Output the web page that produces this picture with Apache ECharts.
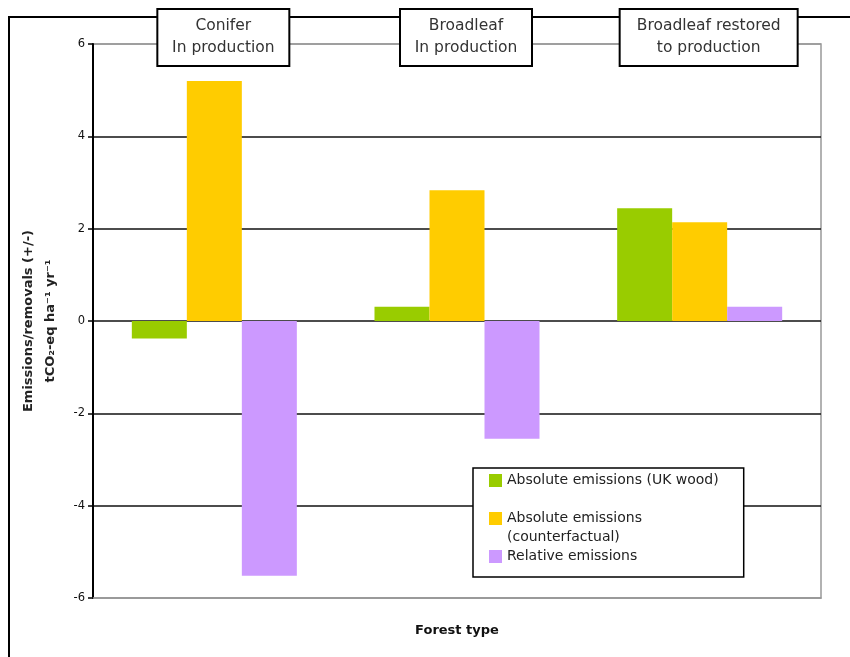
<!DOCTYPE html>
<html>
<head>
<meta charset="utf-8">
<script src="https://cdn.jsdelivr.net/npm/echarts@6/dist/echarts.min.js"></script>
<style>html,body{margin:0;padding:0;background:#fff}#c{width:850px;height:657px}</style>
</head>
<body>
<div id="c"></div>
<script>
var categories = ['Conifer\nIn production', 'Broadleaf\nIn production', 'Broadleaf restored\nto production'];
var seriesNames = ['Absolute emissions (UK wood)', 'Absolute emissions\n(counterfactual)', 'Relative emissions'];
var absUK = [-0.38, 0.31, 2.44];
var absCounterfactual = [5.2, 2.83, 2.14];
var relative = [-5.52, -2.55, 0.31];
var yMin = -6, yMax = 6, yStep = 2;

var colors = ['#99CC00', '#FFCC00', '#CC99FF'];
var font = 'DejaVu Sans';
var chart = echarts.init(document.getElementById('c'));

var boxStyle = ['w1', 'w1', 'w3'];
function topLabel(v, i) {
  var st = boxStyle[i];
  return v.split('\n').map(function (l) { return '{' + st + '|' + l + '}'; }).join('\n');
}

chart.setOption({
  animation: false,
  color: colors,
  graphic: {
    elements: [
      { type: 'polyline', z: -10, shape: { points: [[9, 657], [9, 17], [850, 17]] },
        style: { stroke: '#000', lineWidth: 2, fill: null } }
    ]
  },
  grid: [
    { left: 93, right: 29, top: 44, bottom: 59, containLabel: false, outerBoundsMode: 'none',
      show: true, borderColor: '#999', borderWidth: 1.5, backgroundColor: 'transparent' },
    { left: 102, right: 20, top: 44, height: 10, containLabel: false, outerBoundsMode: 'none' }
  ],
  legend: {
    orient: 'vertical',
    left: 473, top: 468,
    padding: [3, 25, 11, 16],
    borderColor: '#000', borderWidth: 1.5,
    backgroundColor: '#fff',
    itemWidth: 13, itemHeight: 13, itemGap: 0,
    icon: 'rect',
    data: seriesNames,
    formatter: function (n) {
      return n.indexOf('\n') >= 0 ? ' \n' + n : n;
    },
    textStyle: { fontFamily: font, fontSize: 14, color: '#222', lineHeight: 19 }
  },
  xAxis: [
    {
      type: 'category', gridIndex: 0, data: categories, position: 'bottom',
      axisLine: { onZero: false, lineStyle: { color: '#999', width: 1.5 } },
      axisTick: { show: false }, axisLabel: { show: false },
      name: 'Forest type', nameLocation: 'middle', nameGap: 26,
      nameTextStyle: { fontFamily: font, fontSize: 13, fontWeight: 'bold', color: '#111' }
    },
    {
      type: 'category', gridIndex: 1, data: categories, position: 'top', z: 5,
      axisLine: { show: false }, axisTick: { show: false },
      axisLabel: {
        margin: -21, formatter: topLabel,
        backgroundColor: '#fff', borderColor: '#000', borderWidth: 2,
        padding: [5, 0, 6, 0],
        rich: {
          w1: { width: 130, align: 'center', fontFamily: font, fontSize: 15.5, lineHeight: 22, color: '#333' },
          w3: { width: 176, align: 'center', fontFamily: font, fontSize: 15.5, lineHeight: 22, color: '#333' }
        }
      }
    }
  ],
  yAxis: [
    {
      type: 'value', gridIndex: 0, min: yMin, max: yMax, interval: yStep,
      axisLine: { show: true, onZero: false, lineStyle: { color: '#000', width: 2 } },
      axisTick: { show: true, inside: false, length: 5, lineStyle: { color: '#000', width: 1.5 } },
      axisLabel: { fontFamily: font, fontSize: 11.5, color: '#111', margin: 8 },
      splitLine: { show: true, lineStyle: { color: ['#999', '#111', '#111', '#111', '#111', '#111', '#999'], width: 1.5 } },
      name: 'Emissions/removals (+/-)\ntCO₂-eq ha⁻¹ yr⁻¹',
      nameLocation: 'middle', nameGap: 31, nameRotate: 90,
      nameTextStyle: { fontFamily: font, fontSize: 13, fontWeight: 'bold', color: '#222', lineHeight: 22 }
    },
    { type: 'value', gridIndex: 1, show: false }
  ],
  series: [
    { name: seriesNames[0], type: 'bar', data: absUK, barGap: '0%', barCategoryGap: '32%' },
    { name: seriesNames[1], type: 'bar', data: absCounterfactual, barGap: '0%', barCategoryGap: '32%' },
    { name: seriesNames[2], type: 'bar', data: relative, barGap: '0%', barCategoryGap: '32%' }
  ]
});
</script>
</body>
</html>
